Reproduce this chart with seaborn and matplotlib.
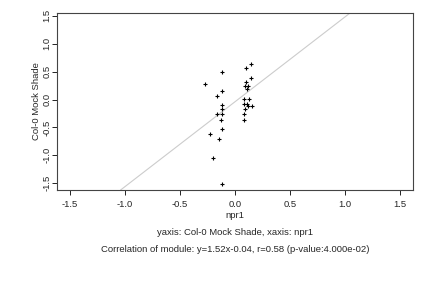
import matplotlib
matplotlib.use("Agg")
import matplotlib.pyplot as plt
import seaborn as sns
import pandas as pd

# values
npr1 = [-0.273, -0.121, -0.115, -0.161, -0.115, -0.121, -0.161, -0.115, -0.130,
        -0.121, -0.225, -0.143, -0.203, -0.121,
        0.097, 0.148, 0.145, 0.103, 0.091, 0.115, 0.112, 0.085, 0.125, 0.085,
        0.109, 0.121, 0.157, 0.094, 0.085, 0.085]
col0_mock_shade = [0.276, 0.502, 0.156, 0.066, -0.095, -0.172, -0.256, -0.256, -0.364,
                   -0.525, -0.620, -0.704, -1.050, -1.511,
                   0.563, 0.634, 0.384, 0.312, 0.246, 0.246, 0.197, 0.013, 0.013, -0.082,
                   -0.082, -0.113, -0.113, -0.167, -0.256, -0.364]
slope, intercept = 1.52, -0.04
x_ticks = [-1.5, -1.0, -0.5, 0.0, 0.5, 1.0, 1.5]
y_ticks = [-1.5, -1.0, -0.5, 0.0, 0.5, 1.0, 1.5]

df = pd.DataFrame({"npr1": npr1, "Col-0 Mock Shade": col0_mock_shade})

sns.set_theme(style="ticks")
plt.rcParams["font.family"] = ["Liberation Sans", "DejaVu Sans"]

fig = plt.figure(figsize=(4.32, 2.88), dpi=100)
ax = fig.add_axes([0.1326, 0.3403, 0.8227, 0.6146])

# regression line of the module
ax.axline((0, intercept), slope=slope, color="#cccccc", lw=0.8, zorder=1)
sns.scatterplot(data=df, x="npr1", y="Col-0 Mock Shade", marker="+", color="black",
                s=12, linewidth=0.8, ax=ax, zorder=2)

ax.set_xlim(-1.615, 1.615)
ax.set_ylim(-1.62, 1.55)
ax.set_xticks(x_ticks, [f"{t:.1f}" for t in x_ticks])
ax.set_yticks(y_ticks, [f"{t:.1f}" for t in y_ticks])
ax.tick_params(axis="both", labelsize=6.8, length=3.5, width=0.6, color="black", pad=4)
ax.tick_params(axis="y", pad=0.5)
plt.setp(ax.get_yticklabels(), rotation=90, va="center")
for sp in ax.spines.values():
    sp.set_visible(True)
    sp.set_color("#444444")
    sp.set_linewidth(0.8)

ax.set_xlabel("")
ax.set_ylabel("Col-0 Mock Shade", fontsize=6.8, labelpad=1.5)

cx = 0.544
fig.text(cx, 0.25, "npr1", ha="center", va="center", fontsize=6.8)
fig.text(cx, 0.191, "yaxis: Col-0 Mock Shade, xaxis: npr1", ha="center", va="center", fontsize=6.8)
fig.text(cx, 0.135, "Correlation of module: y=1.52x-0.04, r=0.58 (p-value:4.000e-02)",
         ha="center", va="center", fontsize=6.8)

fig.savefig("out.png", dpi=100)
